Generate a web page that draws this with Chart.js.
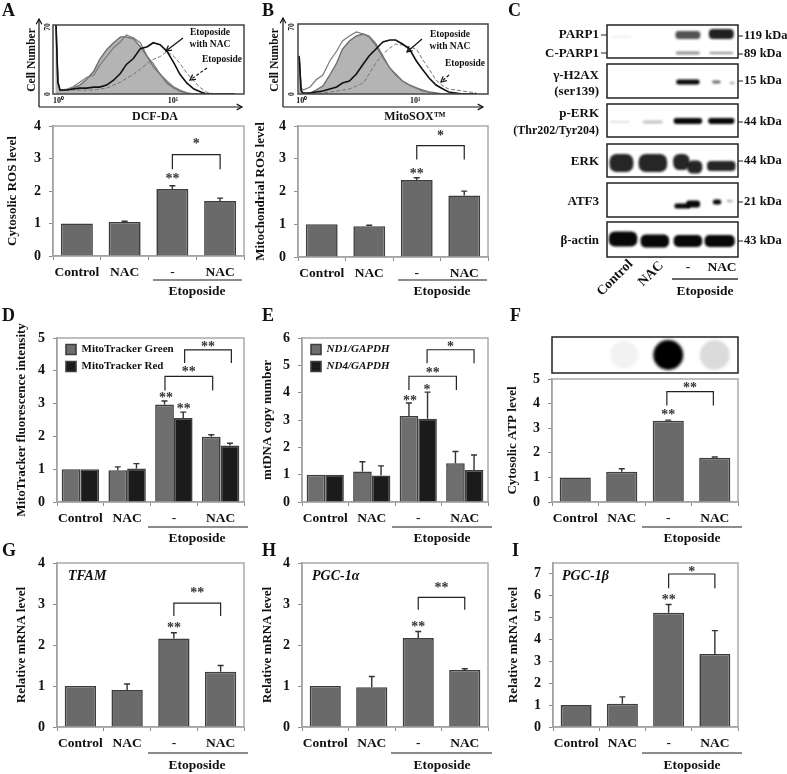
<!DOCTYPE html>
<html>
<head>
<meta charset="utf-8">
<style>
  html, body { margin: 0; background: #fff; }
  #page { position: relative; width: 787px; height: 774px; overflow: hidden; }
  canvas { position: absolute; }
  .tag { position: absolute; font: bold 18px "Liberation Serif"; color: #111; }
</style>
<script src="https://cdn.jsdelivr.net/npm/chart.js@4"></script>
</head>
<body>
<div id="page"></div>
<script>
// bar values
const groupLabels = ["Control", "NAC", "-", "NAC"];

const cytosolicRos = [1, 1.05, 2.06, 1.69];
const cytosolicRosErr = [0, 0.02, 0.1, 0.09];
const mitoRos = [1, 0.94, 2.35, 1.88];
const mitoRosErr = [0, 0.03, 0.07, 0.13];
const trackerGreen = [1, 0.97, 2.97, 1.99];
const trackerGreenErr = [0, 0.1, 0.11, 0.06];
const trackerRed = [1, 1.02, 2.56, 1.72];
const trackerRedErr = [0, 0.15, 0.18, 0.07];
const nd1 = [1, 1.12, 3.15, 1.42];
const nd1Err = [0, 0.35, 0.47, 0.43];
const nd4 = [1, 0.97, 3.05, 1.17];
const nd4Err = [0, 0.35, 0.97, 0.55];
const atpLevel = [1, 1.23, 3.3, 1.8];
const atpLevelErr = [0, 0.12, 0.03, 0.03];
const tfam = [1, 0.9, 2.16, 1.35];
const tfamErr = [0, 0.15, 0.14, 0.15];
const pgc1a = [1, 0.97, 2.17, 1.39];
const pgc1aErr = [0, 0.26, 0.16, 0.03];
const pgc1b = [1, 1.06, 5.2, 3.33];
const pgc1bErr = [0, 0.31, 0.38, 1.06];

// flow cytometry histograms (log10 intensity, cell count)
const histLog = [-0.01, -0.004, 0.012, 0.03, 0.09, 0.14, 0.2, 0.26, 0.32, 0.37, 0.43, 0.49, 0.55, 0.6, 0.66, 0.72, 0.78, 0.83, 0.89, 0.95, 1.01, 1.06, 1.12, 1.18, 1.24, 1.29, 1.35, 1.41, 1.47, 1.53];
const dcfControl = [70, 70, 12, 4, 4, 6, 9, 15, 23, 35, 45, 52, 58, 58, 56, 48, 38, 28, 20, 11, 6, 3, 1, 0, 0, 0, 0, 0, 0, 0];
const dcfNac = [70, 70, 12, 4, 5, 7, 12, 17, 19, 29, 38, 47, 53, 60, 57, 52, 38, 31, 20, 13, 7, 4, 1, 0, 0, 0, 0, 0, 0, 0];
const dcfEtoNac = [70, 70, 12, 4, 4, 5, 6, 6, 7, 7, 9, 14, 21, 30, 36, 46, 48, 52, 50, 43, 31, 20, 11, 5, 2, 0, 0, 0, 0, 0];
const dcfEto = [70, 70, 12, 3, 4, 4, 4, 4, 4, 5, 6, 9, 12, 16, 20, 25, 31, 35, 38, 43, 38, 31, 21, 13, 6, 2, 0, 0, 0, 0];
const soxControl = [38, 36, 4, 0, 1, 4, 8, 19, 31, 45, 53, 58, 60, 58, 50, 38, 26, 20, 13, 9, 6, 4, 2, 1, 0, 0, 0, 0, 0, 0];
const soxNac = [38, 36, 6, 4, 7, 14, 19, 33, 43, 53, 58, 62, 60, 57, 48, 36, 26, 19, 13, 9, 6, 3, 2, 0, 0, 0, 0, 0, 0, 0];
const soxEtoNac = [38, 36, 3, 1, 1, 2, 3, 5, 7, 11, 13, 20, 30, 38, 45, 52, 54, 54, 50, 45, 33, 25, 16, 9, 5, 2, 1, 0, 0, 0];
const soxEto = [38, 36, 3, 0, 1, 1, 1, 2, 3, 4, 5, 8, 11, 20, 31, 40, 46, 50, 49, 47, 45, 35, 25, 14, 8, 5, 4, 3, 2, 1];

// western blot: one entry per band, lane position, page height, width in lanes, thickness, ink
const blotRowTop = [25, 64, 104, 144, 183, 222];
const blotRowBottom = [58, 98, 137, 177, 217, 257];
const bandLane = [0.44, 2.47, 3.49, 2.47, 3.49, 2.47, 3.34, 3.82, 0.39, 1.4, 2.47, 3.49, 0.44, 1.4, 2.27, 2.68, 3.49, 2.3, 2.63, 3.36, 3.75, 0.49, 1.46, 2.47, 3.44];
const bandPos = [37, 35, 34, 53, 53, 82, 82, 83, 122, 122, 121, 121, 163, 163, 162, 167, 166, 206, 204, 202, 201, 239, 241, 241, 241];
const bandWidth = [0.6, 0.76, 0.76, 0.72, 0.72, 0.71, 0.25, 0.15, 0.6, 0.6, 0.87, 0.8, 0.73, 0.87, 0.5, 0.46, 0.87, 0.48, 0.42, 0.25, 0.18, 0.87, 0.87, 0.87, 0.92];
const bandHeight = [1, 8, 10, 3, 2, 5, 3, 2, 2, 3, 6, 6, 18, 18, 16, 13, 10, 5, 7, 5, 2, 15, 13, 12, 12];
const bandInk = [0.12, 0.7, 0.9, 0.45, 0.45, 1, 0.6, 0.4, 0.12, 0.25, 1, 1, 0.88, 0.88, 0.88, 0.88, 0.88, 1, 1, 1, 0.35, 1, 1, 1, 1];
const blotLeftLabels = [["PARP1", 35], ["C-PARP1", 54], ["\u03b3-H2AX", 76], ["(ser139)", 92], ["p-ERK", 114], ["(Thr202/Tyr204)", 131], ["ERK", 162], ["ATF3", 202], ["\u03b2-actin", 241]];
const blotSizes = [["119 kDa", 36], ["89 kDa", 54], ["15 kDa", 81], ["44 kDa", 122], ["44 kDa", 161], ["21 kDa", 202], ["43 kDa", 241]];

// ATP dot blot
const dotLane = [1.05, 2, 3];
const dotInk = [0.05, 1, 0.14];
const dotRadius = [14, 15, 15];

const SERIF = '"Liberation Serif"';
Chart.defaults.font.family = SERIF;
Chart.defaults.animation = false;

const page = document.getElementById("page");

function addCanvas(left, top, width, height) {
  const c = document.createElement("canvas");
  c.width = width;
  c.height = height;
  c.style.left = left + "px";
  c.style.top = top + "px";
  c.style.width = width + "px";
  c.style.height = height + "px";
  page.appendChild(c);
  return c;
}

function put(ctx, text, x, y, font, align, color) {
  ctx.font = font;
  ctx.textAlign = align || "center";
  ctx.textBaseline = "middle";
  ctx.fillStyle = color || "#111";
  ctx.fillText(text, x, y);
}

function arrow(ctx, x1, y1, x2, y2, dashed) {
  const a = Math.atan2(y2 - y1, x2 - x1);
  ctx.strokeStyle = "#111";
  ctx.lineWidth = 1.2;
  ctx.setLineDash(dashed ? [3, 2] : []);
  ctx.beginPath();
  ctx.moveTo(x1, y1);
  ctx.lineTo(x2, y2);
  ctx.stroke();
  ctx.setLineDash([]);
  ctx.beginPath();
  ctx.moveTo(x2 - 6 * Math.cos(a - 0.5), y2 - 6 * Math.sin(a - 0.5));
  ctx.lineTo(x2, y2);
  ctx.lineTo(x2 - 6 * Math.cos(a + 0.5), y2 - 6 * Math.sin(a + 0.5));
  ctx.stroke();
}

// p.box = [left, top, right, bottom] of the plot on the page
function barPanel(p) {
  const [l, t, r, b] = p.box;
  const left = p.titleX - 8;
  const top = t - 18;
  const width = r - left + 12;
  const height = b - top + 46;

  const overlay = {
    id: "overlay",
    afterLayout(chart) {
      // the legend sits inside the plot, nudge it to where the original has it
      if (p.legendFont) {
        chart.legend.top = chart.chartArea.top;
        chart.legend.left = chart.chartArea.left + 3;
      }
    },
    beforeDatasetsDraw(chart) {
      const ctx = chart.ctx, a = chart.chartArea;
      ctx.save();
      ctx.strokeStyle = "#ababab";
      ctx.lineWidth = 1.5;
      ctx.strokeRect(a.left, a.top, a.right - a.left, a.bottom - a.top);
      ctx.restore();
    },
    afterDatasetsDraw(chart) {
      const ctx = chart.ctx, xs = chart.scales.x, ys = chart.scales.y;
      ctx.save();
      // error bars, upper side only
      p.series.forEach((s, i) => {
        chart.getDatasetMeta(i).data.forEach((bar, j) => {
          if (!s.err[j]) return;
          const y0 = ys.getPixelForValue(s.values[j]);
          const y1 = ys.getPixelForValue(s.values[j] + s.err[j]);
          ctx.strokeStyle = "#333";
          ctx.lineWidth = 1.4;
          ctx.beginPath();
          ctx.moveTo(bar.x, y0);
          ctx.lineTo(bar.x, y1);
          ctx.moveTo(bar.x - 3, y1);
          ctx.lineTo(bar.x + 3, y1);
          ctx.stroke();
        });
      });
      // significance brackets
      (p.brackets || []).forEach(([from, to, top, leg, mark, markY]) => {
        const x1 = xs.getPixelForValue(from), x2 = xs.getPixelForValue(to);
        const y = ys.getPixelForValue(top), yLeg = ys.getPixelForValue(leg);
        ctx.strokeStyle = "#222";
        ctx.lineWidth = 1.2;
        ctx.beginPath();
        ctx.moveTo(x1, yLeg);
        ctx.lineTo(x1, y);
        ctx.lineTo(x2, y);
        ctx.lineTo(x2, yLeg);
        ctx.stroke();
        put(ctx, mark, (x1 + x2) / 2, ys.getPixelForValue(markY) + 3, "bold 14px " + SERIF, "center", "#333");
      });
      (p.marks || []).forEach(([pos, val, mark]) => {
        put(ctx, mark, xs.getPixelForValue(pos), ys.getPixelForValue(val) + 3, "bold 14px " + SERIF, "center", "#333");
      });
      // treatment group under the axis
      const [x1, x2, cx, yLine, yText] = p.group;
      ctx.translate(-left, -top);
      ctx.strokeStyle = "#666";
      ctx.lineWidth = 1.6;
      ctx.beginPath();
      ctx.moveTo(x1, yLine);
      ctx.lineTo(x2, yLine);
      ctx.stroke();
      put(ctx, "Etoposide", cx, yText, "bold 13.5px " + SERIF);
      if (p.note) put(ctx, p.note[0], p.note[1], t + 13, "italic bold 14px " + SERIF, "left");
      ctx.restore();
    }
  };

  return new Chart(addCanvas(left, top, width, height), {
    type: "bar",
    data: {
      labels: groupLabels,
      datasets: p.series.map(s => ({
        label: s.name || "",
        data: s.values,
        backgroundColor: s.color || "#6a6a6a",
        borderColor: "#3d3d3d",
        borderWidth: 1.6,
        categoryPercentage: p.series.length > 1 ? 0.8 : 0.67,
        barPercentage: 1
      }))
    },
    options: {
      responsive: false,
      layout: { autoPadding: false, padding: { top: t - top, right: left + width - r, left: 0, bottom: 0 } },
      plugins: {
        tooltip: { enabled: false },
        legend: p.legendFont ? {
          display: true,
          position: "chartArea",
          align: "start",
          labels: { boxWidth: 10, boxHeight: 10, padding: 6, color: "#111", font: p.legendFont }
        } : { display: false }
      },
      scales: {
        x: {
          afterFit(s) { s.height = height - (b - top); },
          border: { color: "#8c8c8c", width: 1.5 },
          grid: { display: true, drawOnChartArea: false, tickLength: 4, color: "#8c8c8c" },
          ticks: { color: "#111", padding: 4, maxRotation: 0, autoSkip: false, font: { size: 13.5, weight: "bold" } }
        },
        y: {
          min: 0,
          max: p.max,
          afterFit(s) { s.width = l - left; },
          border: { color: "#8c8c8c", width: 1.5 },
          grid: { display: true, drawOnChartArea: false, tickLength: 4, color: "#8c8c8c" },
          ticks: { color: "#111", stepSize: 1, includeBounds: false, padding: 8, font: { size: 14, weight: "bold" } },
          title: { display: true, text: p.title, color: "#111", padding: 0, font: { size: 13, weight: "bold" } }
        }
      }
    },
    plugins: [overlay]
  });
}

// p.box as above; p.axisX is where the arrowed axis stands
function histPanel(p) {
  const [l, t, r, b] = p.box;
  const left = p.axisX - 22, top = 14, width = r - left + 12, height = 112;

  const overlay = {
    id: "histOverlay",
    afterDatasetsDraw(chart) {
      const ctx = chart.ctx, a = chart.chartArea, xs = chart.scales.x;
      ctx.save();
      ctx.strokeStyle = "#444";
      ctx.lineWidth = 1.5;
      ctx.strokeRect(a.left, a.top, a.right - a.left, a.bottom - a.top);
      put(ctx, "10\u2070", xs.getPixelForValue(0) + 2, b + 7 - top, "bold 8px " + SERIF);
      put(ctx, "10\u00b9", xs.getPixelForValue(1), b + 7 - top, "bold 8px " + SERIF);
      ctx.translate(-left, -top);
      arrow(ctx, p.axisX, 107, p.axisX, p.axisTop, false);
      arrow(ctx, p.axisX, 107, p.axisEnd, 107, false);
      [["Cell Number", p.cellX, 60, "bold 11.5px "], ["70", p.countX, 27, "bold 7.5px "], ["0", p.countX, 94, "bold 7.5px "]].forEach(([s, x, y, f]) => {
        ctx.save();
        ctx.translate(x, y);
        ctx.rotate(-Math.PI / 2);
        put(ctx, s, 0, 0, f + SERIF);
        ctx.restore();
      });
      put(ctx, p.xLabel, p.xLabelX, 116.5, "bold 12px " + SERIF);
      p.notes.forEach(([s, x, y]) => put(ctx, s, x, y, "bold 9.5px " + SERIF));
      arrow(ctx, ...p.solidArrow, false);
      arrow(ctx, ...p.dashArrow, true);
      ctx.restore();
    }
  };

  const line = (vals, color, w, extra) => Object.assign({
    data: histLog.map((x, i) => ({ x, y: vals[i] })),
    showLine: true, pointRadius: 0, borderColor: color, borderWidth: w, tension: 0
  }, extra);

  return new Chart(addCanvas(left, top, width, height), {
    type: "scatter",
    data: {
      // chart.js paints the first dataset last, so the black curve goes first
      datasets: [
        line(p.curves[2], "#111", 1.6),
        line(p.curves[3], "#777", 1, { borderDash: [4, 2] }),
        line(p.curves[1], "#7a7a7a", 1.2),
        line(p.curves[0], "#6e6e6e", 1.4, { fill: "origin", backgroundColor: "#b4b4b4" })
      ]
    },
    options: {
      responsive: false,
      layout: { autoPadding: false, padding: { left: l - left, top: t - top, right: left + width - r, bottom: top + height - b } },
      plugins: { legend: { display: false }, tooltip: { enabled: false } },
      scales: {
        x: { type: "linear", display: false, min: p.logMin, max: p.logMax },
        y: { display: false, min: 0, max: 70 }
      }
    },
    plugins: [overlay]
  });
}

function blotPanel() {
  const left = 510, top = 15, width = 277, height = 290;
  const overlay = {
    id: "blot",
    afterDatasetsDraw(chart) {
      const ctx = chart.ctx, a = chart.chartArea, ys = chart.scales.y;
      const pts = chart.getDatasetMeta(0).data, xs = chart.scales.x;
      ctx.save();
      ctx.filter = "blur(1.2px)";
      pts.forEach((pt, i) => {
        const w = xs.getPixelForValue(bandWidth[i]) - xs.getPixelForValue(0);
        const h = bandHeight[i];
        ctx.fillStyle = "rgba(8,8,8," + bandInk[i] + ")";
        ctx.beginPath();
        ctx.roundRect(pt.x - w / 2, pt.y - h / 2, w, h, h * 0.4);
        ctx.fill();
      });
      ctx.filter = "none";
      ctx.strokeStyle = "#222";
      ctx.lineWidth = 1.5;
      blotRowTop.forEach((rowTop, i) => {
        const y1 = ys.getPixelForValue(rowTop), y2 = ys.getPixelForValue(blotRowBottom[i]);
        ctx.strokeRect(a.left, y1, a.right - a.left, y2 - y1);
      });
      ctx.translate(-left, -top);
      blotLeftLabels.forEach(([s, y]) => put(ctx, s, 599, y, (s.length > 10 ? "bold 12px " : "bold 13px ") + SERIF, "right"));
      blotSizes.forEach(([s, y]) => {
        put(ctx, s, 744, y, "bold 12.5px " + SERIF, "left");
        ctx.lineWidth = 1;
        ctx.beginPath();
        ctx.moveTo(738, y);
        ctx.lineTo(743, y);
        ctx.stroke();
      });
      [35, 53].forEach(y => {
        ctx.beginPath();
        ctx.moveTo(601, y);
        ctx.lineTo(607, y);
        ctx.stroke();
      });
      [["Control", 615, 278], ["NAC", 651, 274]].forEach(([s, x, y]) => {
        ctx.save();
        ctx.translate(x, y);
        ctx.rotate(-Math.PI / 4);
        put(ctx, s, 0, 0, "bold 13.5px " + SERIF);
        ctx.restore();
      });
      put(ctx, "-", 688, 268, "bold 13.5px " + SERIF);
      put(ctx, "NAC", 722, 268, "bold 13.5px " + SERIF);
      ctx.lineWidth = 1.4;
      ctx.strokeStyle = "#333";
      ctx.beginPath();
      ctx.moveTo(672, 279);
      ctx.lineTo(738, 279);
      ctx.stroke();
      put(ctx, "Etoposide", 705, 292, "bold 13.5px " + SERIF);
      ctx.restore();
    }
  };
  return new Chart(addCanvas(left, top, width, height), {
    type: "scatter",
    data: { datasets: [{ data: bandLane.map((x, i) => ({ x, y: bandPos[i] })), pointRadius: 0 }] },
    options: {
      responsive: false,
      layout: { autoPadding: false, padding: { left: 97, right: 49, top: 10, bottom: 48 } },
      plugins: { legend: { display: false }, tooltip: { enabled: false } },
      scales: {
        x: { type: "linear", display: false, min: 0, max: 4 },
        y: { display: false, reverse: true, min: 25, max: 257 }
      }
    },
    plugins: [overlay]
  });
}

function dotPanel() {
  const blur = {
    id: "dotBlur",
    beforeDatasetsDraw(chart) { chart.ctx.save(); chart.ctx.filter = "blur(1.5px)"; },
    afterDatasetsDraw(chart) {
      const ctx = chart.ctx, a = chart.chartArea;
      ctx.restore();
      ctx.strokeStyle = "#222";
      ctx.lineWidth = 1.5;
      ctx.strokeRect(a.left, a.top, a.right - a.left, a.bottom - a.top);
    }
  };
  return new Chart(addCanvas(550, 335, 190, 40), {
    type: "bubble",
    data: {
      datasets: [{
        data: dotLane.map((x, i) => ({ x, y: 0.5, r: dotRadius[i] })),
        backgroundColor: dotInk.map(k => "rgba(0,0,0," + k + ")"),
        borderWidth: 0
      }]
    },
    options: {
      responsive: false,
      layout: { autoPadding: false, padding: { left: 2, right: 2, top: 2, bottom: 2 } },
      plugins: { legend: { display: false }, tooltip: { enabled: false } },
      scales: {
        x: { type: "linear", display: false, min: -0.5, max: 3.5 },
        y: { display: false, min: 0, max: 1 }
      }
    },
    plugins: [blur]
  });
}

barPanel({
  box: [53, 126, 244, 256], titleX: 13, max: 4, title: "Cytosolic ROS level",
  series: [{ values: cytosolicRos, err: cytosolicRosErr }],
  brackets: [[2, 3, 3.12, 2.67, "*", 3.53]], marks: [[2, 2.45, "**"]],
  group: [153, 242, 197, 280, 292]
});
barPanel({
  box: [298, 126, 488, 257], titleX: 261, max: 4, title: "Mitochondrial ROS level",
  series: [{ values: mitoRos, err: mitoRosErr }],
  brackets: [[2, 3, 3.4, 2.98, "*", 3.78]], marks: [[2, 2.6, "**"]],
  group: [398, 487, 442, 280, 292]
});
barPanel({
  box: [57, 338, 244, 502], titleX: 22, max: 5, title: "MitoTracker fluorescence intensity",
  series: [
    { name: "MitoTracker Green", values: trackerGreen, err: trackerGreenErr, color: "#6e6e6e" },
    { name: "MitoTracker Red", values: trackerRed, err: trackerRedErr, color: "#1b1b1b" }
  ],
  legendFont: { size: 11, weight: "bold" },
  brackets: [[2.23, 3.23, 4.64, 4.24, "**", 4.82], [1.81, 2.83, 3.83, 3.4, "**", 4.05]],
  marks: [[1.83, 3.25, "**"], [2.21, 2.92, "**"]],
  group: [148, 248, 197, 527, 539]
});
barPanel({
  box: [302, 338, 488, 502], titleX: 268, max: 6, title: "mtDNA copy number",
  series: [
    { name: "ND1/GAPDH", values: nd1, err: nd1Err, color: "#6e6e6e" },
    { name: "ND4/GAPDH", values: nd4, err: nd4Err, color: "#1b1b1b" }
  ],
  legendFont: { size: 11, weight: "bold", style: "italic" },
  brackets: [[2.19, 3.2, 5.57, 5.08, "*", 5.75], [1.8, 2.82, 4.6, 4.1, "**", 4.8]],
  marks: [[1.82, 3.78, "**"], [2.19, 4.2, "*"]],
  group: [392, 492, 442, 527, 539]
});
barPanel({
  box: [552, 379, 738, 502], titleX: 513, max: 5, title: "Cytosolic ATP level",
  series: [{ values: atpLevel, err: atpLevelErr }],
  brackets: [[1.97, 2.97, 4.49, 3.92, "**", 4.73]], marks: [[2, 3.65, "**"]],
  group: [642, 742, 692, 527, 539]
});
barPanel({
  box: [57, 563, 244, 727], titleX: 22, max: 4, title: "Relative mRNA level",
  series: [{ values: tfam, err: tfamErr }],
  brackets: [[2, 3, 3.02, 2.71, "**", 3.34]], marks: [[2, 2.47, "**"]],
  group: [148, 248, 197, 753, 766], note: ["TFAM", 68]
});
barPanel({
  box: [302, 563, 488, 727], titleX: 268, max: 4, title: "Relative mRNA level",
  series: [{ values: pgc1a, err: pgc1aErr }],
  brackets: [[2, 3, 3.16, 2.86, "**", 3.46]], marks: [[2, 2.51, "**"]],
  group: [391, 492, 442, 753, 766], note: ["PGC-1\u03b1", 312]
});
barPanel({
  box: [553, 563, 738, 727], titleX: 514, max: 7.47, title: "Relative mRNA level",
  series: [{ values: pgc1b, err: pgc1bErr }],
  brackets: [[2, 3, 6.97, 6.32, "*", 7.18]], marks: [[2, 5.89, "**"]],
  group: [642, 742, 692, 753, 766], note: ["PGC-1\u03b2", 562]
});

histPanel({
  box: [53, 25, 244, 94], axisX: 39, axisTop: 19, axisEnd: 242, cellX: 32, countX: 48,
  logMin: -0.03, logMax: 1.61, xLabel: "DCF-DA", xLabelX: 155,
  curves: [dcfControl, dcfNac, dcfEtoNac, dcfEto],
  notes: [["Etoposide", 210, 33], ["with NAC", 210, 45], ["Etoposide", 222, 60]],
  solidArrow: [183, 38, 166, 51], dashArrow: [207, 68, 190, 80]
});
histPanel({
  box: [298, 24, 488, 94], axisX: 283, axisTop: 18, axisEnd: 483, cellX: 275, countX: 292,
  logMin: -0.015, logMax: 1.63, xLabel: "MitoSOX\u2122", xLabelX: 415,
  curves: [soxControl, soxNac, soxEtoNac, soxEto],
  notes: [["Etoposide", 450, 35], ["with NAC", 450, 47], ["Etoposide", 465, 64]],
  solidArrow: [422, 39, 407, 52], dashArrow: [449, 75, 441, 82]
});

blotPanel();
dotPanel();

[["A", 2, 0], ["B", 262, 0], ["C", 508, 0], ["D", 2, 305], ["E", 262, 305], ["F", 510, 305], ["G", 2, 540], ["H", 262, 540], ["I", 512, 540]].forEach(([s, x, y]) => {
  const d = document.createElement("div");
  d.className = "tag";
  d.textContent = s;
  d.style.left = x + "px";
  d.style.top = y + "px";
  page.appendChild(d);
});
</script>
</body>
</html>
